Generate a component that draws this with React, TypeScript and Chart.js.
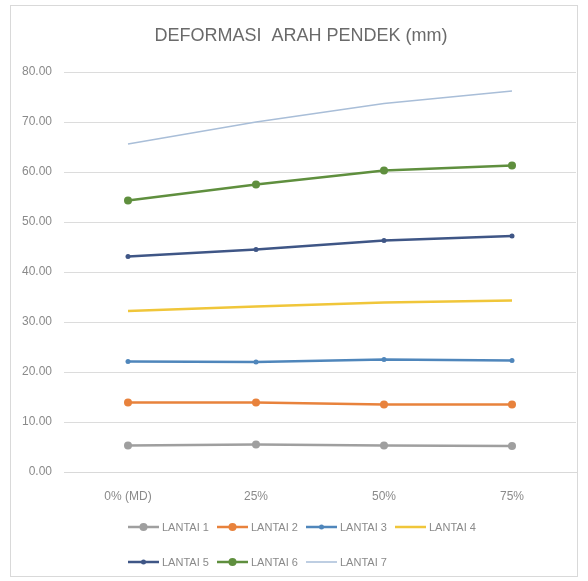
import React, { useEffect, useRef } from "react";
import { Chart, registerables } from "chart.js";

Chart.register(...registerables);

// Load levels (x axis)
const categories = ["0% (MD)", "25%", "50%", "75%"];

// Deformation per floor, mm
const lantai1 = [5.3, 5.5, 5.3, 5.2];
const lantai2 = [13.9, 13.9, 13.5, 13.5];
const lantai3 = [22.1, 22.0, 22.5, 22.3];
const lantai4 = [32.2, 33.1, 33.9, 34.3];
const lantai5 = [43.1, 44.5, 46.3, 47.2];
const lantai6 = [54.3, 57.5, 60.3, 61.3];
const lantai7 = [65.6, 70.0, 73.7, 76.2];

const seriesNames = ["LANTAI 1", "LANTAI 2", "LANTAI 3", "LANTAI 4", "LANTAI 5", "LANTAI 6", "LANTAI 7"];
const seriesValues = [lantai1, lantai2, lantai3, lantai4, lantai5, lantai6, lantai7];
const seriesColors = ["#9f9f9f", "#e8823c", "#4f86bb", "#f0c63a", "#3f5686", "#5f8f3e", "#a9bed8"];
const markerRadius = [4, 4, 2.5, 0, 2.5, 4, 0];
const lineWidths = [2.5, 2.5, 2.5, 2.5, 2.5, 2.5, 1.5];

const yMin = 0;
const yMax = 80;
const yStep = 10;

const titleText = "DEFORMASI  ARAH PENDEK (mm)";
const FONT = "'Liberation Sans', Arial, sans-serif";

// Frame, title and two-row legend drawn around the plot
const decorations = {
  id: "decorations",
  beforeDraw(chart: any) {
    const ctx = chart.ctx;
    ctx.save();
    ctx.fillStyle = "#ffffff";
    ctx.fillRect(0, 0, chart.width, chart.height);
    ctx.strokeStyle = "#d9d9d9";
    ctx.lineWidth = 1;
    ctx.strokeRect(10.5, 5.5, 567, 571);
    ctx.restore();
  },
  afterDraw(chart: any) {
    const ctx = chart.ctx;
    const area = chart.chartArea;
    ctx.save();
    ctx.fillStyle = "#6a6a6a";
    ctx.font = `18px ${FONT}`;
    ctx.textAlign = "center";
    ctx.textBaseline = "middle";
    ctx.fillText(titleText, (area.left + area.right) / 2 - 19, 36);

    const x0 = chart.scales.x.getPixelForValue(0);
    const colW = 89;
    const rowY = [527, 562];
    ctx.font = `11px ${FONT}`;
    ctx.textAlign = "left";
    chart.data.datasets.forEach((ds: any, i: number) => {
      const row = i < 4 ? 0 : 1;
      const col = i % 4;
      const x = x0 + col * colW;
      const y = rowY[row];
      ctx.strokeStyle = ds.borderColor;
      ctx.lineWidth = ds.borderWidth;
      ctx.beginPath();
      ctx.moveTo(x, y);
      ctx.lineTo(x + 31, y);
      ctx.stroke();
      if (ds.pointRadius > 0) {
        ctx.fillStyle = ds.borderColor;
        ctx.beginPath();
        ctx.arc(x + 15.5, y, ds.pointRadius, 0, Math.PI * 2);
        ctx.fill();
      }
      ctx.fillStyle = "#8a8a8a";
      ctx.fillText(ds.label, x + 34, y + 0.5);
    });
    ctx.restore();
  },
};

export default function App() {
  const ref = useRef<HTMLCanvasElement | null>(null);

  useEffect(() => {
    if (!ref.current) return;
    const chart = new Chart(ref.current, {
      type: "line",
      data: {
        labels: categories,
        datasets: seriesValues.map((vals, i) => ({
          label: seriesNames[i],
          data: vals,
          borderColor: seriesColors[i],
          backgroundColor: seriesColors[i],
          borderWidth: lineWidths[i],
          pointRadius: markerRadius[i],
          pointBorderWidth: 0,
          pointHoverRadius: markerRadius[i],
          tension: 0,
          fill: false,
        })),
      },
      options: {
        responsive: false,
        animation: false,
        layout: { padding: { left: 0, right: 12, top: 72, bottom: 69 } },
        plugins: {
          legend: { display: false },
          title: { display: false },
          tooltip: { enabled: false },
        },
        scales: {
          x: {
            offset: true,
            grid: { display: false, drawTicks: false },
            border: { display: true, color: "#d9d9d9", width: 1 },
            ticks: { color: "#8a8a8a", font: { family: FONT, size: 12 }, padding: 17 },
            afterFit: (s: any) => {
              s.height = 40;
            },
          },
          y: {
            min: yMin,
            max: yMax,
            grid: { color: "#dcdcdc", lineWidth: 1, drawTicks: false },
            border: { display: false },
            ticks: {
              stepSize: yStep,
              color: "#8a8a8a",
              font: { family: FONT, size: 12 },
              padding: 12,
              callback: (v: any) => Number(v).toFixed(2),
            },
            afterFit: (s: any) => {
              s.width = 64;
            },
          },
        },
      },
      plugins: [decorations],
    });
    return () => chart.destroy();
  }, []);

  return (
    <div style={{ position: "absolute", left: 0, top: 0, width: 588, height: 581 }}>
      <canvas ref={ref} width={588} height={581} style={{ display: "block" }} />
    </div>
  );
}
